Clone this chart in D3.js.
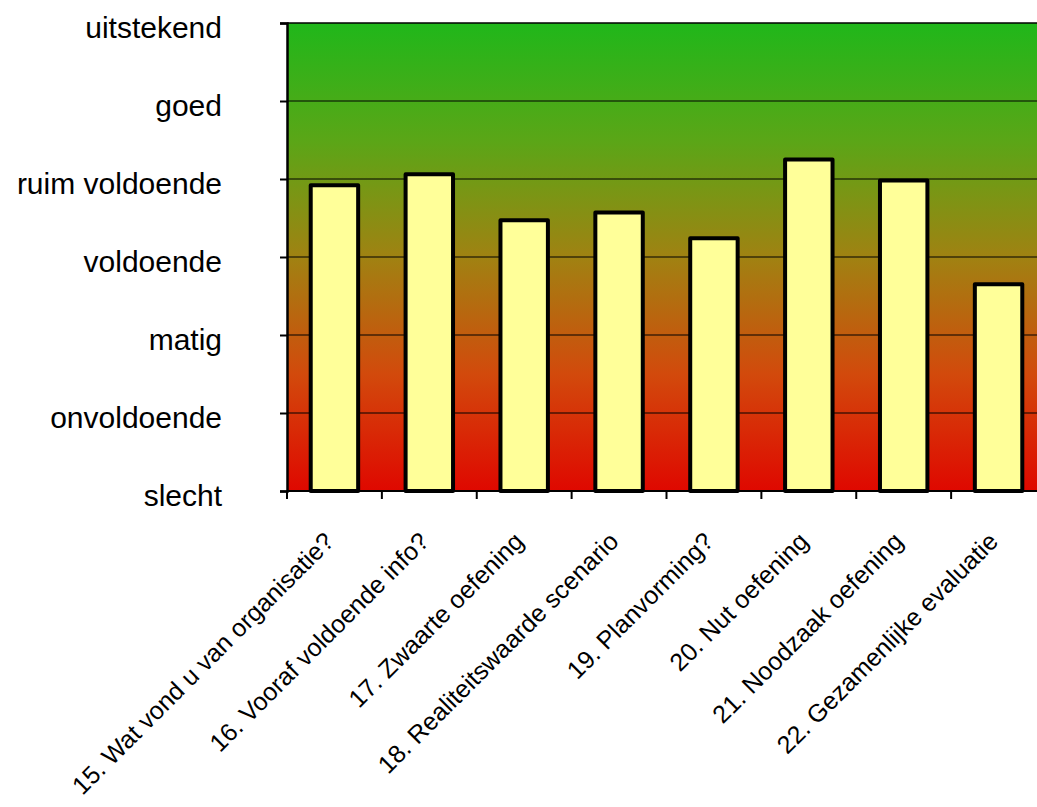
<!DOCTYPE html>
<html>
<head>
<meta charset="utf-8">
<script src="https://cdn.jsdelivr.net/npm/d3@7"></script>
<style>
  body { margin: 0; background: #fff; }
  text { font-family: Arial, "Liberation Sans", sans-serif; fill: #000; }
</style>
</head>
<body>
<svg id="chart"></svg>
<script>
// Data
const questions = [
    '15. Wat vond u van organisatie?',
    '16. Vooraf voldoende info?',
    '17. Zwaarte oefening',
    '18. Realiteitswaarde scenario',
    '19. Planvorming?',
    '20. Nut oefening',
    '21. Noodzaak oefening',
    '22. Gezamenlijke evaluatie'
];
const scores = [3.92, 4.06, 3.47, 3.57, 3.24, 4.25, 3.98, 2.65];
const ratingLabels = ['slecht', 'onvoldoende', 'matig', 'voldoende', 'ruim voldoende', 'goed', 'uitstekend'];

const W = 1037, H = 807;
const margin = { top: 23, right: -9, bottom: 316, left: 287 };
const width = W - margin.left - margin.right;
const height = H - margin.top - margin.bottom;

const svg = d3.select('#chart')
    .attr('width', W)
    .attr('height', H);

// background gradient green -> red
const defs = svg.append('defs');
const grad = defs.append('linearGradient')
    .attr('id', 'bg')
    .attr('x1', 0).attr('y1', 0).attr('x2', 0).attr('y2', 1);
grad.append('stop').attr('offset', '0%').attr('stop-color', '#20b71a');
grad.append('stop').attr('offset', '25%').attr('stop-color', '#5aa617');
grad.append('stop').attr('offset', '50%').attr('stop-color', '#a08212');
grad.append('stop').attr('offset', '75%').attr('stop-color', '#d24a0c');
grad.append('stop').attr('offset', '100%').attr('stop-color', '#df0800');

const g = svg.append('g')
    .attr('transform', `translate(${margin.left}, ${margin.top})`);

// Scales
const xScale = d3.scaleBand()
    .domain(questions)
    .range([0, width])
    .paddingInner(0.5)
    .paddingOuter(0.25);

const yScale = d3.scaleLinear()
    .domain([0, ratingLabels.length - 1])
    .range([height, 0]);

g.append('rect')
    .attr('width', width)
    .attr('height', height)
    .attr('fill', 'url(#bg)');

// grid lines
g.append('g')
    .selectAll('line')
    .data(d3.range(1, ratingLabels.length))
    .join('line')
    .attr('x1', 0)
    .attr('x2', width)
    .attr('y1', d => yScale(d))
    .attr('y2', d => yScale(d))
    .attr('stroke', '#000')
    .attr('stroke-width', d => d === ratingLabels.length - 1 ? 1.5 : 1);

// bars
g.append('g')
    .selectAll('rect')
    .data(scores)
    .join('rect')
    .attr('x', (d, i) => xScale(questions[i]))
    .attr('y', d => yScale(d))
    .attr('width', xScale.bandwidth())
    .attr('height', d => height - yScale(d))
    .attr('fill', '#ffff99')
    .attr('stroke', '#000')
    .attr('stroke-width', 4)
    .attr('stroke-linejoin', 'round');

// Y axis
const yAxis = g.append('g')
    .call(d3.axisLeft(yScale)
        .ticks(ratingLabels.length - 1)
        .tickSize(7)
        .tickFormat(d => ratingLabels[d]));
yAxis.select('.domain').attr('stroke-width', 2.5);
yAxis.selectAll('.tick line').attr('stroke-width', 2);
yAxis.selectAll('.tick text')
    .attr('x', -65)
    .attr('dy', '0.48em')
    .style('font-size', '30px');

// X axis (ticks on category boundaries)
const step = xScale.step();
const xAxis = g.append('g')
    .attr('transform', `translate(0, ${height})`);
xAxis.append('line')
    .attr('x1', 0).attr('x2', width)
    .attr('stroke', '#000')
    .attr('stroke-width', 2);
xAxis.selectAll('line.tk')
    .data(d3.range(0, questions.length + 1))
    .join('line')
    .attr('class', 'tk')
    .attr('x1', d => d * step)
    .attr('x2', d => d * step)
    .attr('y1', 0)
    .attr('y2', 8)
    .attr('stroke', '#000')
    .attr('stroke-width', 2);

xAxis.selectAll('text.lbl')
    .data(questions)
    .join('text')
    .attr('class', 'lbl')
    .attr('text-anchor', 'end')
    .attr('transform', d => `translate(${xScale(d) + xScale.bandwidth() / 2 + 1}, 52) rotate(-45)`)
    .style('font-size', '25px')
    .text(d => d);
</script>
</body>
</html>
